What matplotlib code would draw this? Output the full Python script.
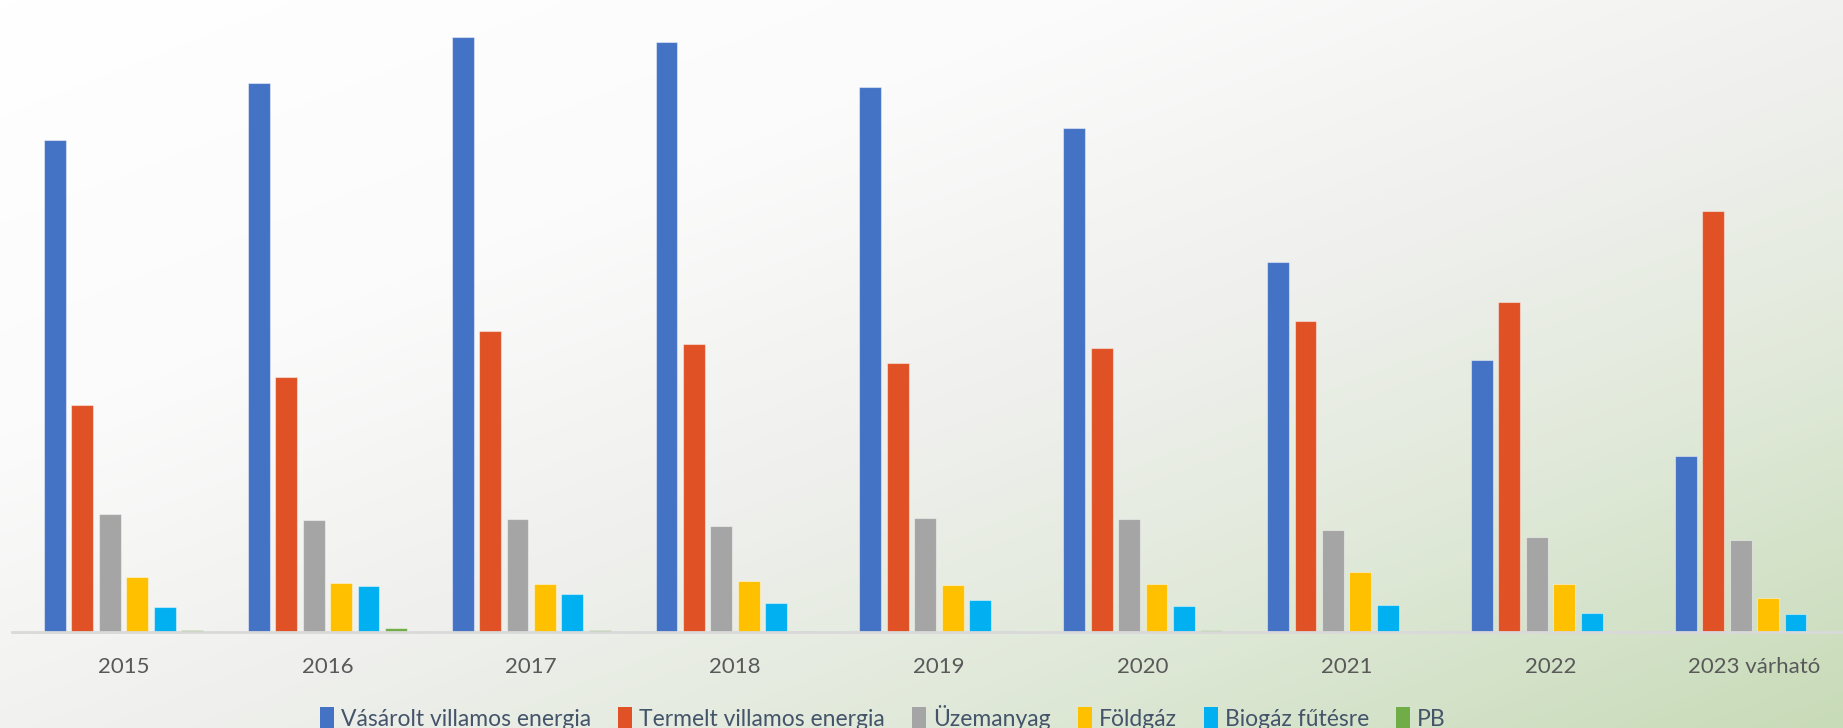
import numpy as np
import matplotlib
matplotlib.use("Agg")
import matplotlib.pyplot as plt
from matplotlib.colors import LinearSegmentedColormap
from matplotlib.patches import Patch

categories = ["2015", "2016", "2017", "2018", "2019", "2020", "2021", "2022", "2023 várható"]
series_names = ["Vásárolt villamos energia", "Termelt villamos energia", "Üzemanyag",
                "Földgáz", "Biogáz fűtésre", "PB"]
vasarolt = [419, 467, 506, 502, 464, 429, 315, 231, 150]
termelt = [193, 217, 256, 245, 229, 242, 265, 281, 358]
uzemanyag = [100, 95, 96, 90, 97, 96, 87, 81, 78]
foldgaz = [47, 42, 41, 43, 40, 41, 51, 41, 29]
biogaz = [21, 39, 32, 25, 27, 22, 23, 16, 15]
pb = [2, 3, 2, 0.6, 1, 2, 1, 0.6, 0.6]
series = [vasarolt, termelt, uzemanyag, foldgaz, biogaz, pb]
colors = ["#4472C4", "#E05226", "#A5A5A5", "#FFC000", "#00B0F0", "#70AD47"]

W, H = 1843, 728
fig = plt.figure(figsize=(W / 100, H / 100), dpi=100)

# background gradient
bg = fig.add_axes([0, 0, 1, 1], zorder=0)
xx, yy = np.meshgrid(np.linspace(0, 1, 400), np.linspace(0, 1, 200))
t = (xx + yy) / 2.0
cmap = LinearSegmentedColormap.from_list(
    "bg", [(0, "#ffffff"), (0.3, "#fbfbfb"), (0.55, "#eff0ed"), (0.75, "#e0e9d9"), (1.0, "#c8dbb8")])
bg.imshow(t, cmap=cmap, aspect="auto", extent=[0, 1, 0, 1], origin="upper", vmin=0, vmax=1)
bg.set_axis_off()

baseline = 632
ax = fig.add_axes([12 / W, 1 - baseline / H, (W - 12) / W + 0.002, baseline / H], zorder=1)
ax.patch.set_alpha(0)
x = np.arange(len(categories))
pitch = 0.1345
width = 0.107
for i, (vals, c) in enumerate(zip(series, colors)):
    ax.bar(x + (i - 2.5) * pitch, vals, width=width, color=c, edgecolor=(1, 1, 1, 0.45),
           linewidth=0.8, zorder=2, label=series_names[i])

ax.set_xlim(-0.547, len(categories) - 0.547)
ax.set_ylim(0, baseline / 1.1754)
for s in ["top", "right", "left"]:
    ax.spines[s].set_visible(False)
ax.spines["bottom"].set_color("#d9d9d9")
ax.spines["bottom"].set_linewidth(2)
ax.spines["bottom"].set_zorder(3)
ax.set_yticks([])
ax.set_xticks(x)
ax.set_xticklabels(categories, fontsize=16, color="#595959", family=["Lato", "DejaVu Sans"])
ax.tick_params(axis="x", length=0, pad=18)

handles = [Patch(facecolor=c, edgecolor="none") for c in colors]
leg = fig.legend(handles, series_names, loc="center", bbox_to_anchor=(0.479, 0.015),
                 ncol=6, frameon=False, handlelength=0.6, handleheight=1.0, handletextpad=0.3,
                 columnspacing=1.2, prop={"family": ["Lato", "DejaVu Sans"], "size": 16.5})
for txt in leg.get_texts():
    txt.set_color("#44546A")

fig.savefig("out.png", dpi=100)
